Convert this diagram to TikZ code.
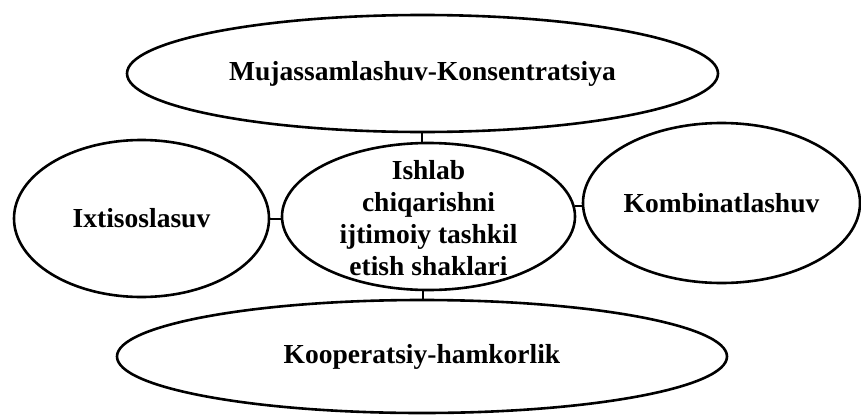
\documentclass[tikz,border=0pt]{standalone}
\usepackage{fontspec}
\setmainfont{Liberation Serif}
\usetikzlibrary{shapes.geometric}
\begin{document}
\begin{tikzpicture}[x=1pt,y=-1pt,
  oval/.style={draw=black, line width=2.6pt, ellipse, inner sep=0pt},
  lbl/.style={font=\bfseries\fontsize{27.5}{32}\selectfont, align=center, inner sep=0pt, text=black},
  link/.style={draw=black, line width=2pt}]
\useasboundingbox (0,0) rectangle (861,415);
\node[oval, minimum width=591pt, minimum height=117pt] (top) at (422.5,73.5) {};
\node[oval, minimum width=255pt, minimum height=157pt] (left) at (141.5,218.5) {};
\node[oval, minimum width=293pt, minimum height=147pt] (cen) at (428.5,216.5) {};
\node[oval, minimum width=277pt, minimum height=160pt] (right) at (721.5,203) {};
\node[oval, minimum width=610pt, minimum height=113pt] (bot) at (422,356.5) {};
\node[lbl] (ttop) at (top.center) {Mujassamlashuv-Konsentratsiya};
\node[lbl] (tleft) at (left.center) {Ixtisoslasuv};
\node[lbl] (tcen) at ([yshift=-2pt]cen.center) {Ishlab\\chiqarishni\\ijtimoiy tashkil\\etish shaklari};
\node[lbl] (tright) at (right.center) {Kombinatlashuv};
\node[lbl] (tbot) at (bot.center) {Kooperatsiy-hamkorlik};
\draw[link] ([xshift=-1pt]top.south) -- ([xshift=-1pt]top.south |- cen.north);
\draw[link] ([xshift=1pt]bot.north) -- ([xshift=1pt]bot.north |- cen.south);
\draw[link] (left.east) -- (left.east -| cen.west);
\draw[link] (cen.4) -- (cen.4 -| right.west);
\end{tikzpicture}
\end{document}
